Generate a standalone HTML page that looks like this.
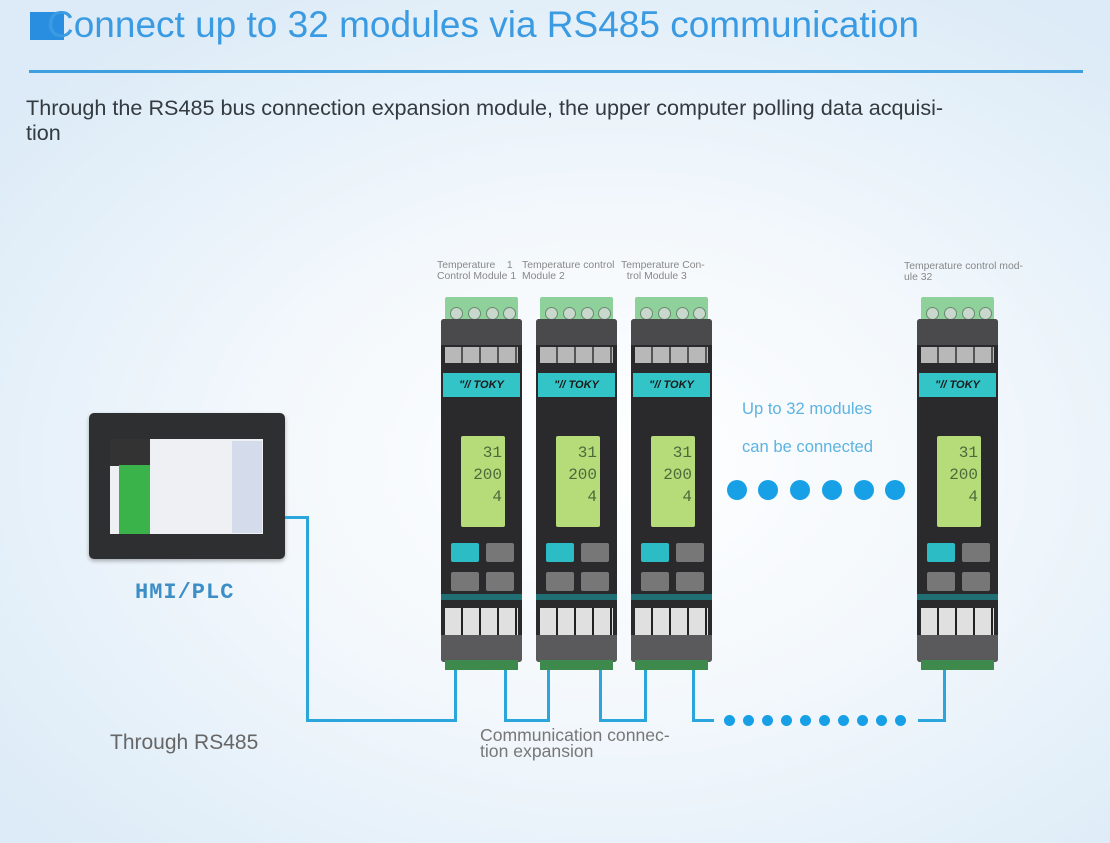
<!DOCTYPE html>
<html><head><meta charset="utf-8"><style>
*{margin:0;padding:0;box-sizing:border-box}
body{width:1110px;height:843px;overflow:hidden;position:relative;font-family:"Liberation Sans",sans-serif;
background:radial-gradient(ellipse 70% 65% at 55% 55%,#ffffff 0%,#f3f8fc 45%,#dcebf7 100%);}
.a{position:absolute}
.mod{position:absolute;top:297px;width:82px;height:375px}
.mod .tg{position:absolute;left:4px;top:0;width:73px;height:25px;background:#8fd19a;border-radius:2px}
.mod .tg i{position:absolute;top:10px;width:13px;height:13px;border-radius:50%;background:#c8d8cc;border:1px solid #6a8a70}
.mod .bd{position:absolute;left:0;top:22px;width:81px;height:343px;background:#2a2a2c;border-radius:3px}
.mod .hd{position:absolute;left:0;top:22px;width:81px;height:26px;background:#4a4a4c;border-radius:3px 3px 0 0}
.mod .num{position:absolute;left:4px;top:50px;width:73px;height:16px;background:repeating-linear-gradient(90deg,#b8b8b8 0 16px,#555 16px 18px)}
.mod .tk{position:absolute;left:2px;top:76px;width:77px;height:24px;background:#33c4c8;color:#1a1a1a;font:bold 11px "Liberation Sans",sans-serif;text-align:center;line-height:24px;font-style:italic}
.mod .lcd{position:absolute;left:20px;top:139px;width:44px;height:91px;background:#b6dc7a;border-radius:2px;color:#4a6a3a;font:16px "Liberation Mono",monospace;text-align:right;padding:6px 3px 0 0;line-height:22px}
.mod .b{position:absolute;width:28px;height:19px;background:#777;border-radius:2px}
.mod .st{position:absolute;left:0;top:297px;width:81px;height:6px;background:#1f6f74}
.mod .gr{position:absolute;left:4px;top:311px;width:73px;height:27px;background:repeating-linear-gradient(90deg,#e0e0e0 0 16px,#222 16px 18px)}
.mod .bt{position:absolute;left:0;top:338px;width:81px;height:27px;background:#5a5a5c;border-radius:0 0 3px 3px}
.mod .bg{position:absolute;left:4px;top:363px;width:73px;height:10px;background:#3d8a4c}
.lbl{position:absolute;font-size:10.4px;color:#888;line-height:11px;white-space:nowrap}
.ln{position:absolute;background:#2aa6dc}
.dot{position:absolute;border-radius:50%;background:#17a0e6}
</style></head><body>
<div class="a" style="left:30px;top:12px;width:34px;height:28px;background:#2a8ee0"></div>
<div class="a" style="left:47px;top:4px;font-size:37px;color:#3a9be2;white-space:nowrap">Connect up to 32 modules via RS485 communication</div>
<div class="a" style="left:29px;top:70px;width:1054px;height:3px;background:#3d9ee0"></div>
<div class="a" style="left:26px;top:95px;font-size:21.6px;color:#333a40;line-height:25px;width:1000px;white-space:nowrap">Through the RS485 bus connection expansion module, the upper computer polling data acquisi-<br>tion</div>

<div class="lbl" style="left:437px;top:260px">Temperature &nbsp;&nbsp;&nbsp;1<br>Control Module 1</div>
<div class="lbl" style="left:522px;top:260px">Temperature control<br>Module 2</div>
<div class="lbl" style="left:621px;top:260px">Temperature Con-<br>&nbsp;&nbsp;trol Module 3</div>
<div class="lbl" style="left:904px;top:261px">Temperature control mod-<br>ule 32</div>

<!-- HMI -->
<div class="a" style="left:89px;top:413px;width:196px;height:146px;background:#2e2f31;border-radius:5px;box-shadow:0 2px 4px rgba(0,0,0,.3)"></div>
<div class="a" style="left:110px;top:439px;width:153px;height:95px;background:#eef0f3"></div>
<div class="a" style="left:110px;top:439px;width:40px;height:27px;background:#333"></div>
<div class="a" style="left:119px;top:465px;width:31px;height:69px;background:#3ab44a"></div>
<div class="a" style="left:232px;top:441px;width:30px;height:92px;background:#d4dceb"></div>
<div class="a" style="left:135px;top:580px;font:bold 22px 'Liberation Mono',monospace;color:#3d8ec6;letter-spacing:1px">HMI/PLC</div>

<!-- modules -->
<div class="mod" style="left:441px"><div class="tg"><i style="left:5px"></i><i style="left:23px"></i><i style="left:41px"></i><i style="left:58px"></i></div><div class="bd"></div><div class="hd"></div><div class="num"></div><div class="tk">"// TOKY</div><div class="lcd">31<br>200<br>4</div><div class="b" style="left:10px;top:246px;background:#2cbcc6"></div><div class="b" style="left:45px;top:246px"></div><div class="b" style="left:10px;top:275px"></div><div class="b" style="left:45px;top:275px"></div><div class="st"></div><div class="gr"></div><div class="bt"></div><div class="bg"></div></div>
<div class="mod" style="left:536px"><div class="tg"><i style="left:5px"></i><i style="left:23px"></i><i style="left:41px"></i><i style="left:58px"></i></div><div class="bd"></div><div class="hd"></div><div class="num"></div><div class="tk">"// TOKY</div><div class="lcd">31<br>200<br>4</div><div class="b" style="left:10px;top:246px;background:#2cbcc6"></div><div class="b" style="left:45px;top:246px"></div><div class="b" style="left:10px;top:275px"></div><div class="b" style="left:45px;top:275px"></div><div class="st"></div><div class="gr"></div><div class="bt"></div><div class="bg"></div></div>
<div class="mod" style="left:631px"><div class="tg"><i style="left:5px"></i><i style="left:23px"></i><i style="left:41px"></i><i style="left:58px"></i></div><div class="bd"></div><div class="hd"></div><div class="num"></div><div class="tk">"// TOKY</div><div class="lcd">31<br>200<br>4</div><div class="b" style="left:10px;top:246px;background:#2cbcc6"></div><div class="b" style="left:45px;top:246px"></div><div class="b" style="left:10px;top:275px"></div><div class="b" style="left:45px;top:275px"></div><div class="st"></div><div class="gr"></div><div class="bt"></div><div class="bg"></div></div>
<div class="mod" style="left:917px"><div class="tg"><i style="left:5px"></i><i style="left:23px"></i><i style="left:41px"></i><i style="left:58px"></i></div><div class="bd"></div><div class="hd"></div><div class="num"></div><div class="tk">"// TOKY</div><div class="lcd">31<br>200<br>4</div><div class="b" style="left:10px;top:246px;background:#2cbcc6"></div><div class="b" style="left:45px;top:246px"></div><div class="b" style="left:10px;top:275px"></div><div class="b" style="left:45px;top:275px"></div><div class="st"></div><div class="gr"></div><div class="bt"></div><div class="bg"></div></div>

<div class="a" style="left:742px;top:399px;font-size:16.6px;color:#5db3e2">Up to 32 modules</div>
<div class="a" style="left:742px;top:437px;font-size:16.6px;color:#5db3e2">can be connected</div>
<div class="dot" style="left:727px;top:480px;width:20px;height:20px"></div>
<div class="dot" style="left:758px;top:480px;width:20px;height:20px"></div>
<div class="dot" style="left:790px;top:480px;width:20px;height:20px"></div>
<div class="dot" style="left:822px;top:480px;width:20px;height:20px"></div>
<div class="dot" style="left:854px;top:480px;width:20px;height:20px"></div>
<div class="dot" style="left:885px;top:480px;width:20px;height:20px"></div>

<!-- wires -->
<div class="ln" style="left:285px;top:516px;width:24px;height:3px"></div>
<div class="ln" style="left:306px;top:516px;width:3px;height:206px"></div>
<div class="ln" style="left:306px;top:719px;width:151px;height:3px"></div>
<div class="ln" style="left:454px;top:670px;width:3px;height:52px"></div>
<div class="ln" style="left:504px;top:670px;width:3px;height:52px"></div>
<div class="ln" style="left:504px;top:719px;width:46px;height:3px"></div>
<div class="ln" style="left:547px;top:670px;width:3px;height:52px"></div>
<div class="ln" style="left:599px;top:670px;width:3px;height:52px"></div>
<div class="ln" style="left:599px;top:719px;width:48px;height:3px"></div>
<div class="ln" style="left:644px;top:670px;width:3px;height:52px"></div>
<div class="ln" style="left:692px;top:670px;width:3px;height:52px"></div>
<div class="ln" style="left:692px;top:719px;width:22px;height:3px"></div>
<div class="ln" style="left:918px;top:719px;width:28px;height:3px"></div>
<div class="ln" style="left:943px;top:670px;width:3px;height:52px"></div>
<div class="dot" style="left:724px;top:715px;width:11px;height:11px"></div>
<div class="dot" style="left:743px;top:715px;width:11px;height:11px"></div>
<div class="dot" style="left:762px;top:715px;width:11px;height:11px"></div>
<div class="dot" style="left:781px;top:715px;width:11px;height:11px"></div>
<div class="dot" style="left:800px;top:715px;width:11px;height:11px"></div>
<div class="dot" style="left:819px;top:715px;width:11px;height:11px"></div>
<div class="dot" style="left:838px;top:715px;width:11px;height:11px"></div>
<div class="dot" style="left:857px;top:715px;width:11px;height:11px"></div>
<div class="dot" style="left:876px;top:715px;width:11px;height:11px"></div>
<div class="dot" style="left:895px;top:715px;width:11px;height:11px"></div>

<div class="a" style="left:110px;top:731px;font-size:21px;color:#666">Through RS485</div>
<div class="a" style="left:480px;top:727px;font-size:17.6px;color:#777;line-height:16px;white-space:nowrap">Communication connec-<br>tion expansion</div>
</body></html>
